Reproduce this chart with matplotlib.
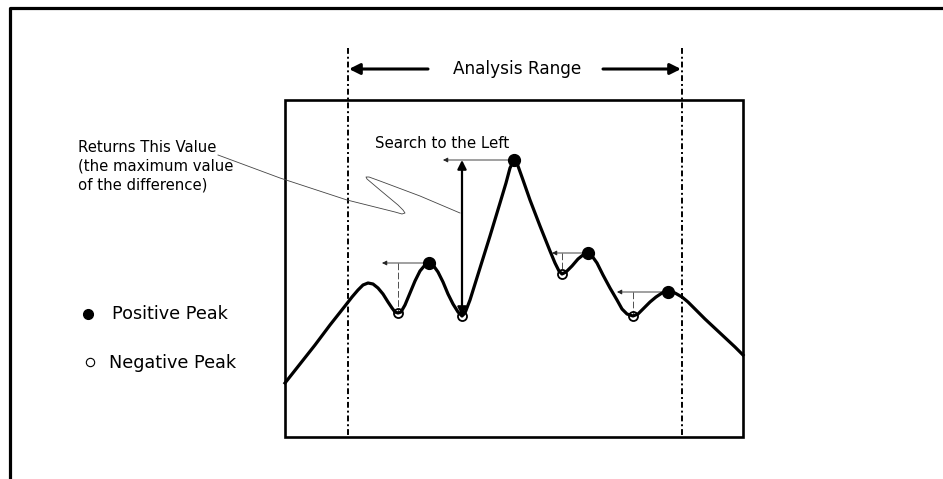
import matplotlib
matplotlib.use("Agg")
import matplotlib.pyplot as plt
from matplotlib.patches import Rectangle

plt.rcParams['font.family'] = ['DejaVu Sans']

# ---- data (in image pixel units) ----
curve_x = [285, 300, 315, 330, 345, 352, 358, 363, 368, 373, 378, 383, 388, 392, 395, 398,
           401, 405, 410, 415, 420, 425, 429, 433, 438, 443, 448, 453, 458, 462, 465, 470,
           480, 490, 500, 506, 510, 514, 518, 523, 530, 540, 550, 555, 559, 562, 566, 572,
           578, 583, 588, 592, 597, 603, 610, 617, 622, 627, 633, 638, 644, 650, 656, 662,
           668, 675, 682, 688, 695, 705, 720, 735, 743]
curve_y = [383, 364, 345, 325, 306, 297, 290, 285, 283, 284, 288, 294, 302, 308, 312, 313,
           312, 305, 293, 281, 271, 265, 263, 265, 272, 282, 294, 304, 312, 316, 313, 300,
           268, 236, 203, 183, 168, 160, 166, 180, 200, 226, 251, 263, 271, 274, 272, 266,
           259, 255, 253, 256, 263, 275, 288, 300, 309, 314, 316, 314, 308, 302, 297, 293,
           292, 293, 297, 302, 309, 319, 333, 347, 355]

pos_peak_x = [429, 514, 588, 668]
pos_peak_y = [263, 160, 253, 292]
neg_peak_x = [398, 462, 562, 633]
neg_peak_y = [313, 316, 274, 316]
search_end_x = [382, 443, 552, 617]

range_left, range_right = 348, 682
box_x0, box_x1, box_y0, box_y1 = 285, 743, 100, 437

leader_x = [218, 280, 347, 395, 402, 405, 403, 398, 380, 367, 366, 369, 380, 420, 460]
leader_y = [155, 178, 200, 212, 214, 213, 210, 205, 190, 179, 177, 177, 181, 196, 213]

fig = plt.figure(figsize=(9.43, 4.79), dpi=100)
ax = fig.add_axes([0, 0, 1, 1])
ax.set_xlim(0, 943)
ax.set_ylim(479, 0)
ax.axis('off')

# outer frame (left + top)
ax.plot([10, 10, 943], [479, 8, 8], color='black', lw=2.3, solid_capstyle='butt')

# inner box
ax.add_patch(Rectangle((box_x0, box_y0), box_x1 - box_x0, box_y1 - box_y0,
                       fill=False, ec='black', lw=1.9))

# analysis range boundaries
for xr in (range_left, range_right):
    ax.plot([xr, xr], [48, box_y1], color='black', lw=1.4, linestyle=(0, (3, 1.5, 1, 1.5)))

# analysis range arrows + label
ax.annotate('', xy=(range_left + 1, 69), xytext=(428, 69),
            arrowprops=dict(arrowstyle='-|>', color='black', lw=2.2, mutation_scale=16,
                            shrinkA=0, shrinkB=0))
ax.annotate('', xy=(range_right - 1, 69), xytext=(603, 69),
            arrowprops=dict(arrowstyle='-|>', color='black', lw=2.2, mutation_scale=16,
                            shrinkA=0, shrinkB=0))
ax.text(517, 69, 'Analysis Range', ha='center', va='center', fontsize=12.2)

# main curve
ax.plot(curve_x, curve_y, color='black', lw=2.3, solid_joinstyle='round', zorder=3)

# search-to-left arrows and dashed drops
for px, py, ex, nx, ny in zip(pos_peak_x, pos_peak_y, search_end_x, neg_peak_x, neg_peak_y):
    ax.annotate('', xy=(ex, py), xytext=(px, py),
                arrowprops=dict(arrowstyle='-|>', color='#222222', lw=0.6, mutation_scale=7,
                                shrinkA=0, shrinkB=0), zorder=2)
    if nx != 462:
        ax.plot([nx, nx], [py, ny], color='#333333', lw=0.6, linestyle=(0, (8, 3)), zorder=2)

# the maximum difference double arrow
ax.annotate('', xy=(462, pos_peak_y[1]), xytext=(462, neg_peak_y[1]),
            arrowprops=dict(arrowstyle='<|-|>', color='black', lw=1.6, mutation_scale=13,
                            shrinkA=0, shrinkB=0), zorder=4)

# peak markers
ax.plot(pos_peak_x, pos_peak_y, 'o', color='black', ms=8.5, zorder=5)
ax.plot(neg_peak_x, neg_peak_y, 'o', mfc='none', mec='black', mew=1.3, ms=6.5, zorder=5)

# labels
ax.text(375, 143, 'Search to the Left', ha='left', va='center', fontsize=10.8)
ax.text(78, 147, 'Returns This Value', ha='left', va='center', fontsize=10.7)
ax.text(78, 166, '(the maximum value', ha='left', va='center', fontsize=10.7)
ax.text(78, 185, 'of the difference)', ha='left', va='center', fontsize=10.7)
ax.plot(leader_x, leader_y, color='#444444', lw=0.6, zorder=2)

# legend
ax.plot([88], [314], 'o', color='black', ms=7)
ax.text(112, 314, 'Positive Peak', ha='left', va='center', fontsize=12.7)
ax.plot([90], [362], 'o', mfc='none', mec='black', mew=0.8, ms=6)
ax.text(109, 363, 'Negative Peak', ha='left', va='center', fontsize=12.7)

fig.savefig('out.png', dpi=100)
